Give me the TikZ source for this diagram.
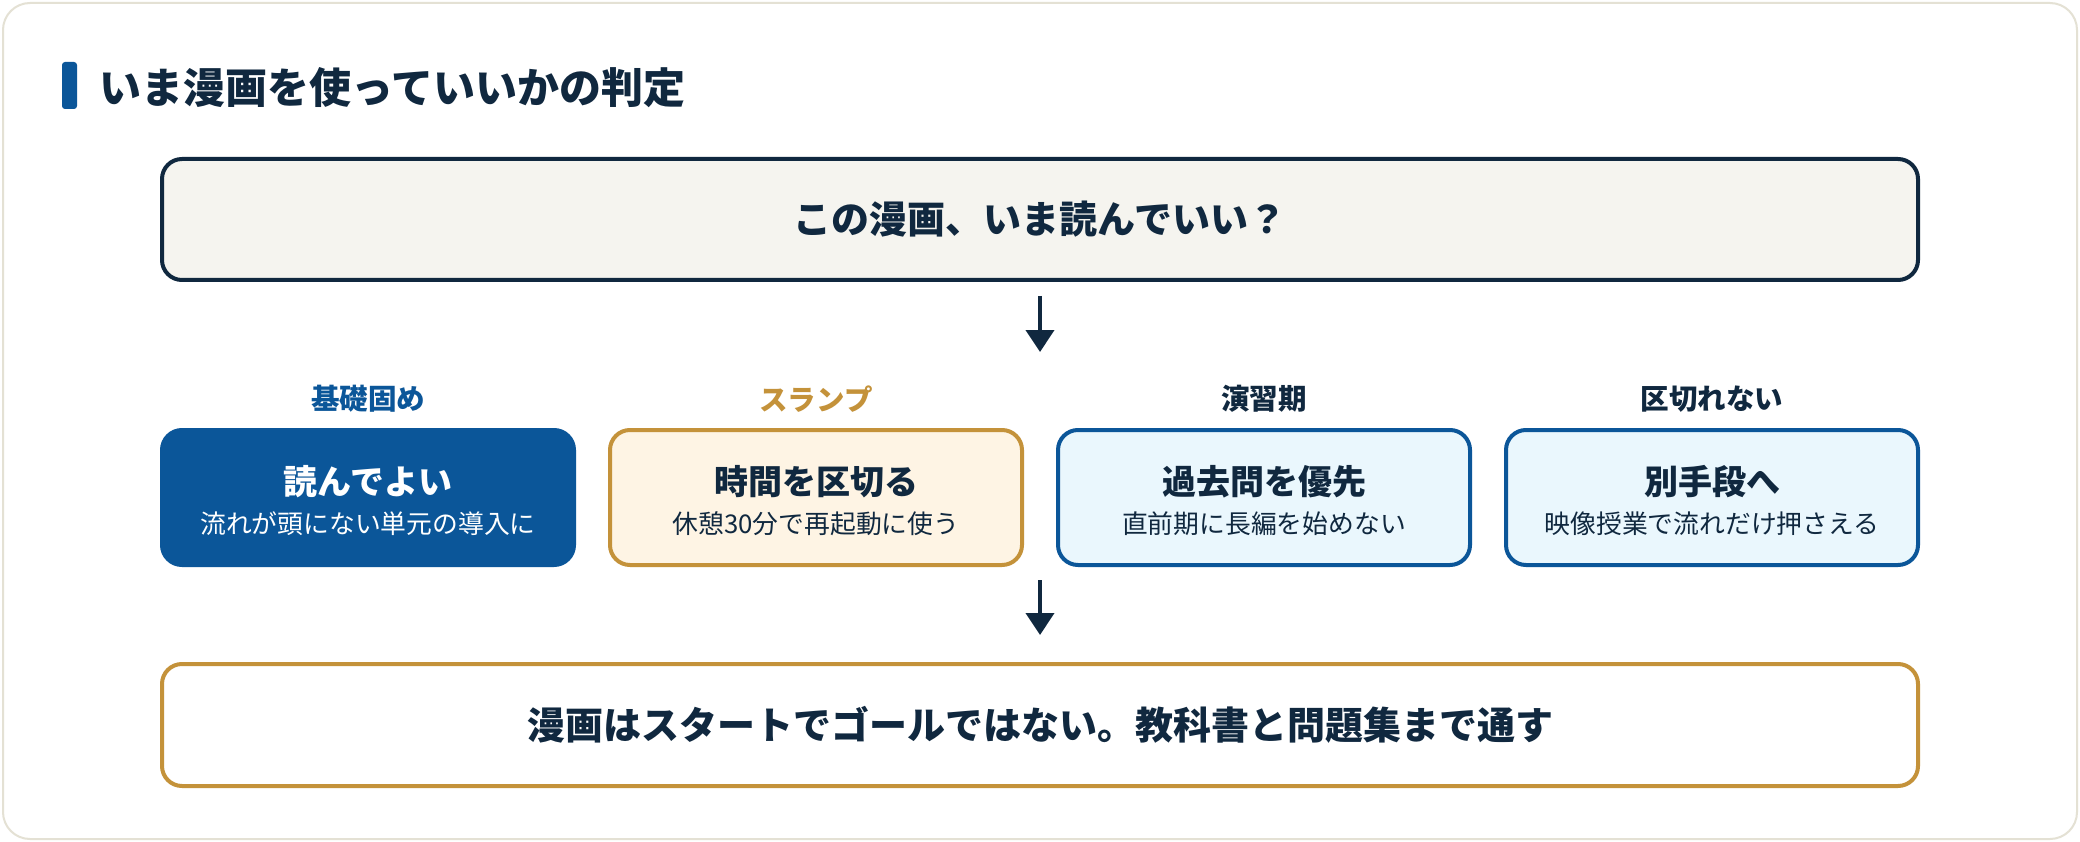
\documentclass[tikz,border=0pt]{standalone}
\usepackage{fontspec}
\setmainfont{Noto Sans CJK JP}
\usetikzlibrary{arrows.meta}

\definecolor{navy}{HTML}{10283F}
\definecolor{deepblue}{HTML}{0B5699}
\definecolor{gold}{HTML}{C4923A}
\definecolor{cream}{HTML}{FEF4E4}
\definecolor{iceblue}{HTML}{EAF7FD}
\definecolor{paper}{HTML}{F5F4EF}
\definecolor{frameline}{HTML}{E4E1D4}

\tikzset{
  wide/.style={draw, rounded corners=20pt, line width=4pt, minimum width=1756pt, minimum height=122pt, inner sep=0pt, text=navy, font=\bfseries\fontsize{38}{44}\selectfont},
  pick/.style={draw, rounded corners=20pt, line width=4pt, minimum width=412pt, minimum height=135pt, inner sep=0pt},
  cat/.style={font=\bfseries\fontsize{28.5}{34}\selectfont, text=navy},
  headline/.style={font=\bfseries\fontsize{34}{40}\selectfont, text=navy},
  subline/.style={font=\fontsize{25.8}{30}\selectfont, text=navy},
  flow/.style={draw=navy, line width=4pt, -{Triangle[width=28pt,length=22pt]}}
}

\begin{document}
\begin{tikzpicture}[x=1pt,y=-1pt]
    \useasboundingbox (0,0) rectangle (2080,842);
    \fill[white] (0,0) rectangle (2080,842);

    % 外框
    \draw[frameline, line width=2pt, fill=white, rounded corners=27pt] (3,3) rectangle (2077,839);

    % 标题
    \fill[deepblue, rounded corners=3pt] (62,62) rectangle (77,109);
    \node[anchor=west, inner sep=0pt, text=navy, font=\bfseries\fontsize{42}{50}\selectfont] (title) at (99,88) {いま漫画を使っていいかの判定};

    % 问题
    \node[wide, fill=paper, draw=navy, minimum height=121pt] (ask) at (1040,219.5) {この漫画、いま読んでいい？};
    \coordinate (askend) at (1040,352);
    \draw[flow, shorten <=14pt] (ask.south) -- (askend);

    % 四个选择
    \node[cat, text=deepblue] (c1) at (368,399) {基礎固め};
    \node[cat, text=gold] (c2) at (816,399) {スランプ};
    \node[cat] (c3) at (1264,399) {演習期};
    \node[cat] (c4) at (1712,399) {区切れない};

    \node[pick, fill=deepblue, draw=deepblue] (b1) at (368,497.5) {};
    \node[pick, fill=cream, draw=gold] (b2) at (816,497.5) {};
    \node[pick, fill=iceblue, draw=deepblue] (b3) at (1264,497.5) {};
    \node[pick, fill=iceblue, draw=deepblue] (b4) at (1712,497.5) {};

    \node[headline, text=white] (h1) at ([yshift=15.5pt]b1.center) {読んでよい};
    \node[subline, text=white] (s1) at ([yshift=-26.5pt]b1.center) {流れが頭にない単元の導入に};
    \node[headline] (h2) at ([yshift=15.5pt]b2.center) {時間を区切る};
    \node[subline] (s2) at ([yshift=-26.5pt]b2.center) {休憩30分で再起動に使う};
    \node[headline] (h3) at ([yshift=15.5pt]b3.center) {過去問を優先};
    \node[subline] (s3) at ([yshift=-26.5pt]b3.center) {直前期に長編を始めない};
    \node[headline] (h4) at ([yshift=15.5pt]b4.center) {別手段へ};
    \node[subline] (s4) at ([yshift=-26.5pt]b4.center) {映像授業で流れだけ押さえる};

    % 结论
    \node[wide, fill=white, draw=gold] (goal) at (1040,725) {漫画はスタートでゴールではない。教科書と問題集まで通す};
    \coordinate (rowend) at (1040,580);
    \draw[flow, shorten >=27pt] (rowend) -- (goal.north);
\end{tikzpicture}
\end{document}
